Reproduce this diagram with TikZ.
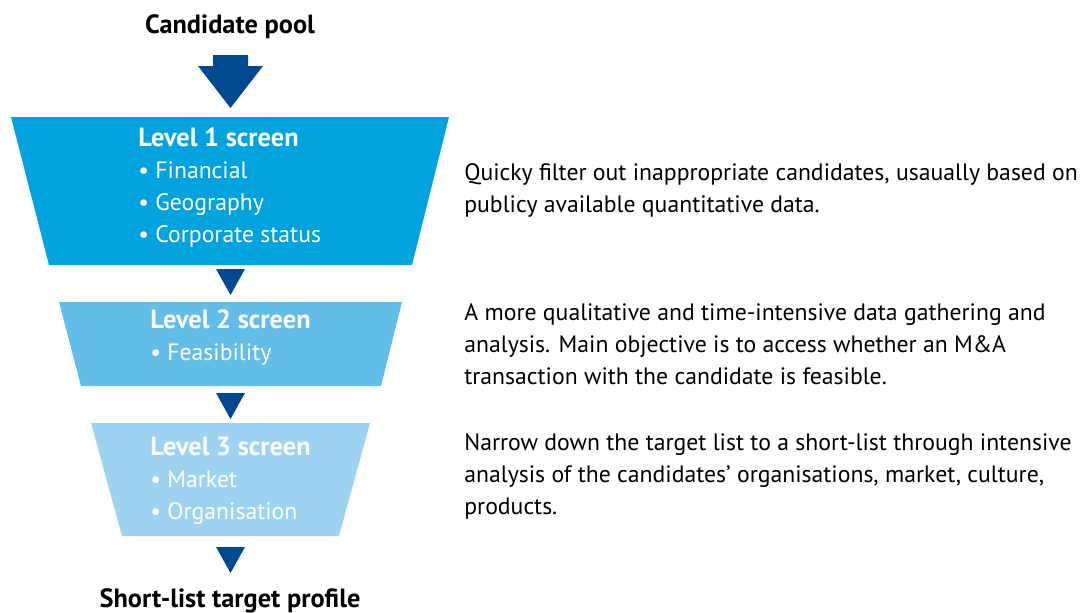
\documentclass[tikz,border=0pt]{standalone}
\usepackage{fontspec}
\setmainfont{PT Sans}
\usetikzlibrary{positioning}

\definecolor{screenone}{RGB}{0,163,221}
\definecolor{screentwo}{RGB}{98,189,232}
\definecolor{screenthree}{RGB}{157,211,240}
\definecolor{arrowblue}{RGB}{0,73,144}

\newcommand{\bodysize}{\fontsize{13.5}{18.14}\selectfont}
\newcommand{\boldsize}{\fontsize{15}{18.14}\selectfont\bfseries}

\begin{document}
\begin{tikzpicture}[x=0.02cm,y=-0.02cm,
	heading/.style={font=\boldsize, anchor=base, inner sep=0pt},
	levelbox/.style={font=\bodysize, anchor=base west, align=left, inner sep=0pt, text=white},
	desc/.style={font=\bodysize, anchor=base west, align=left, inner sep=0pt},
	downtip/.style={fill=arrowblue}]
	\useasboundingbox (0,0) rectangle (1087,612);
	
	% funnel stages
	\fill[screenone] (11,117) -- (449,117) -- (412,265) -- (49,265) -- cycle;
	\fill[screentwo] (59,302) -- (402,302) -- (381,386) -- (81,386) -- cycle;
	\fill[screenthree] (91,423) -- (370,423) -- (339,536) -- (122,536) -- cycle;
	
	% arrows
	\fill[downtip] (213,55) -- (248,55) -- (248,66) -- (263,66) -- (230.5,108)
		-- (198,66) -- (213,66) -- cycle;
	\foreach \y in {269,393,547}
		\fill[downtip] (216,\y) -- (245,\y) -- (230.5,\y+26) -- cycle;
	
	% labels (base = last line)
	\node[heading] (pool) at (230,33) {Candidate pool};
	\node[heading] (short) at (230,607) {Short-list target profile};
	
	\node[levelbox] (lvlone) at (138,242) {{\boldsize Level 1 screen}\\
		\textbullet\ Financial\\
		\textbullet\ Geography\\
		\textbullet\ Corporate status};
	\node[levelbox] (lvltwo) at (150,360) {{\boldsize Level 2 screen}\\
		\textbullet\ Feasibility};
	\node[levelbox] (lvlthree) at (150,519) {{\boldsize Level 3 screen}\\
		\textbullet\ Market\\
		\textbullet\ Organisation};
	
	\node[desc] (descone) at (464,212) {Quicky filter out inappropriate candidates, usaually based on\\
		publicy available quantitative data.};
	\node[desc] (desctwo) at (464,384) {A more qualitative and time-intensive data gathering and\\
		analysis. Main objective is to access whether an M\&A\\
		transaction with the candidate is feasible.};
	\node[desc] (descthree) at (464,514) {Narrow down the target list to a short-list through intensive\\
		analysis of the candidates’ organisations, market, culture,\\
		products.};
	
\end{tikzpicture}
\end{document}
